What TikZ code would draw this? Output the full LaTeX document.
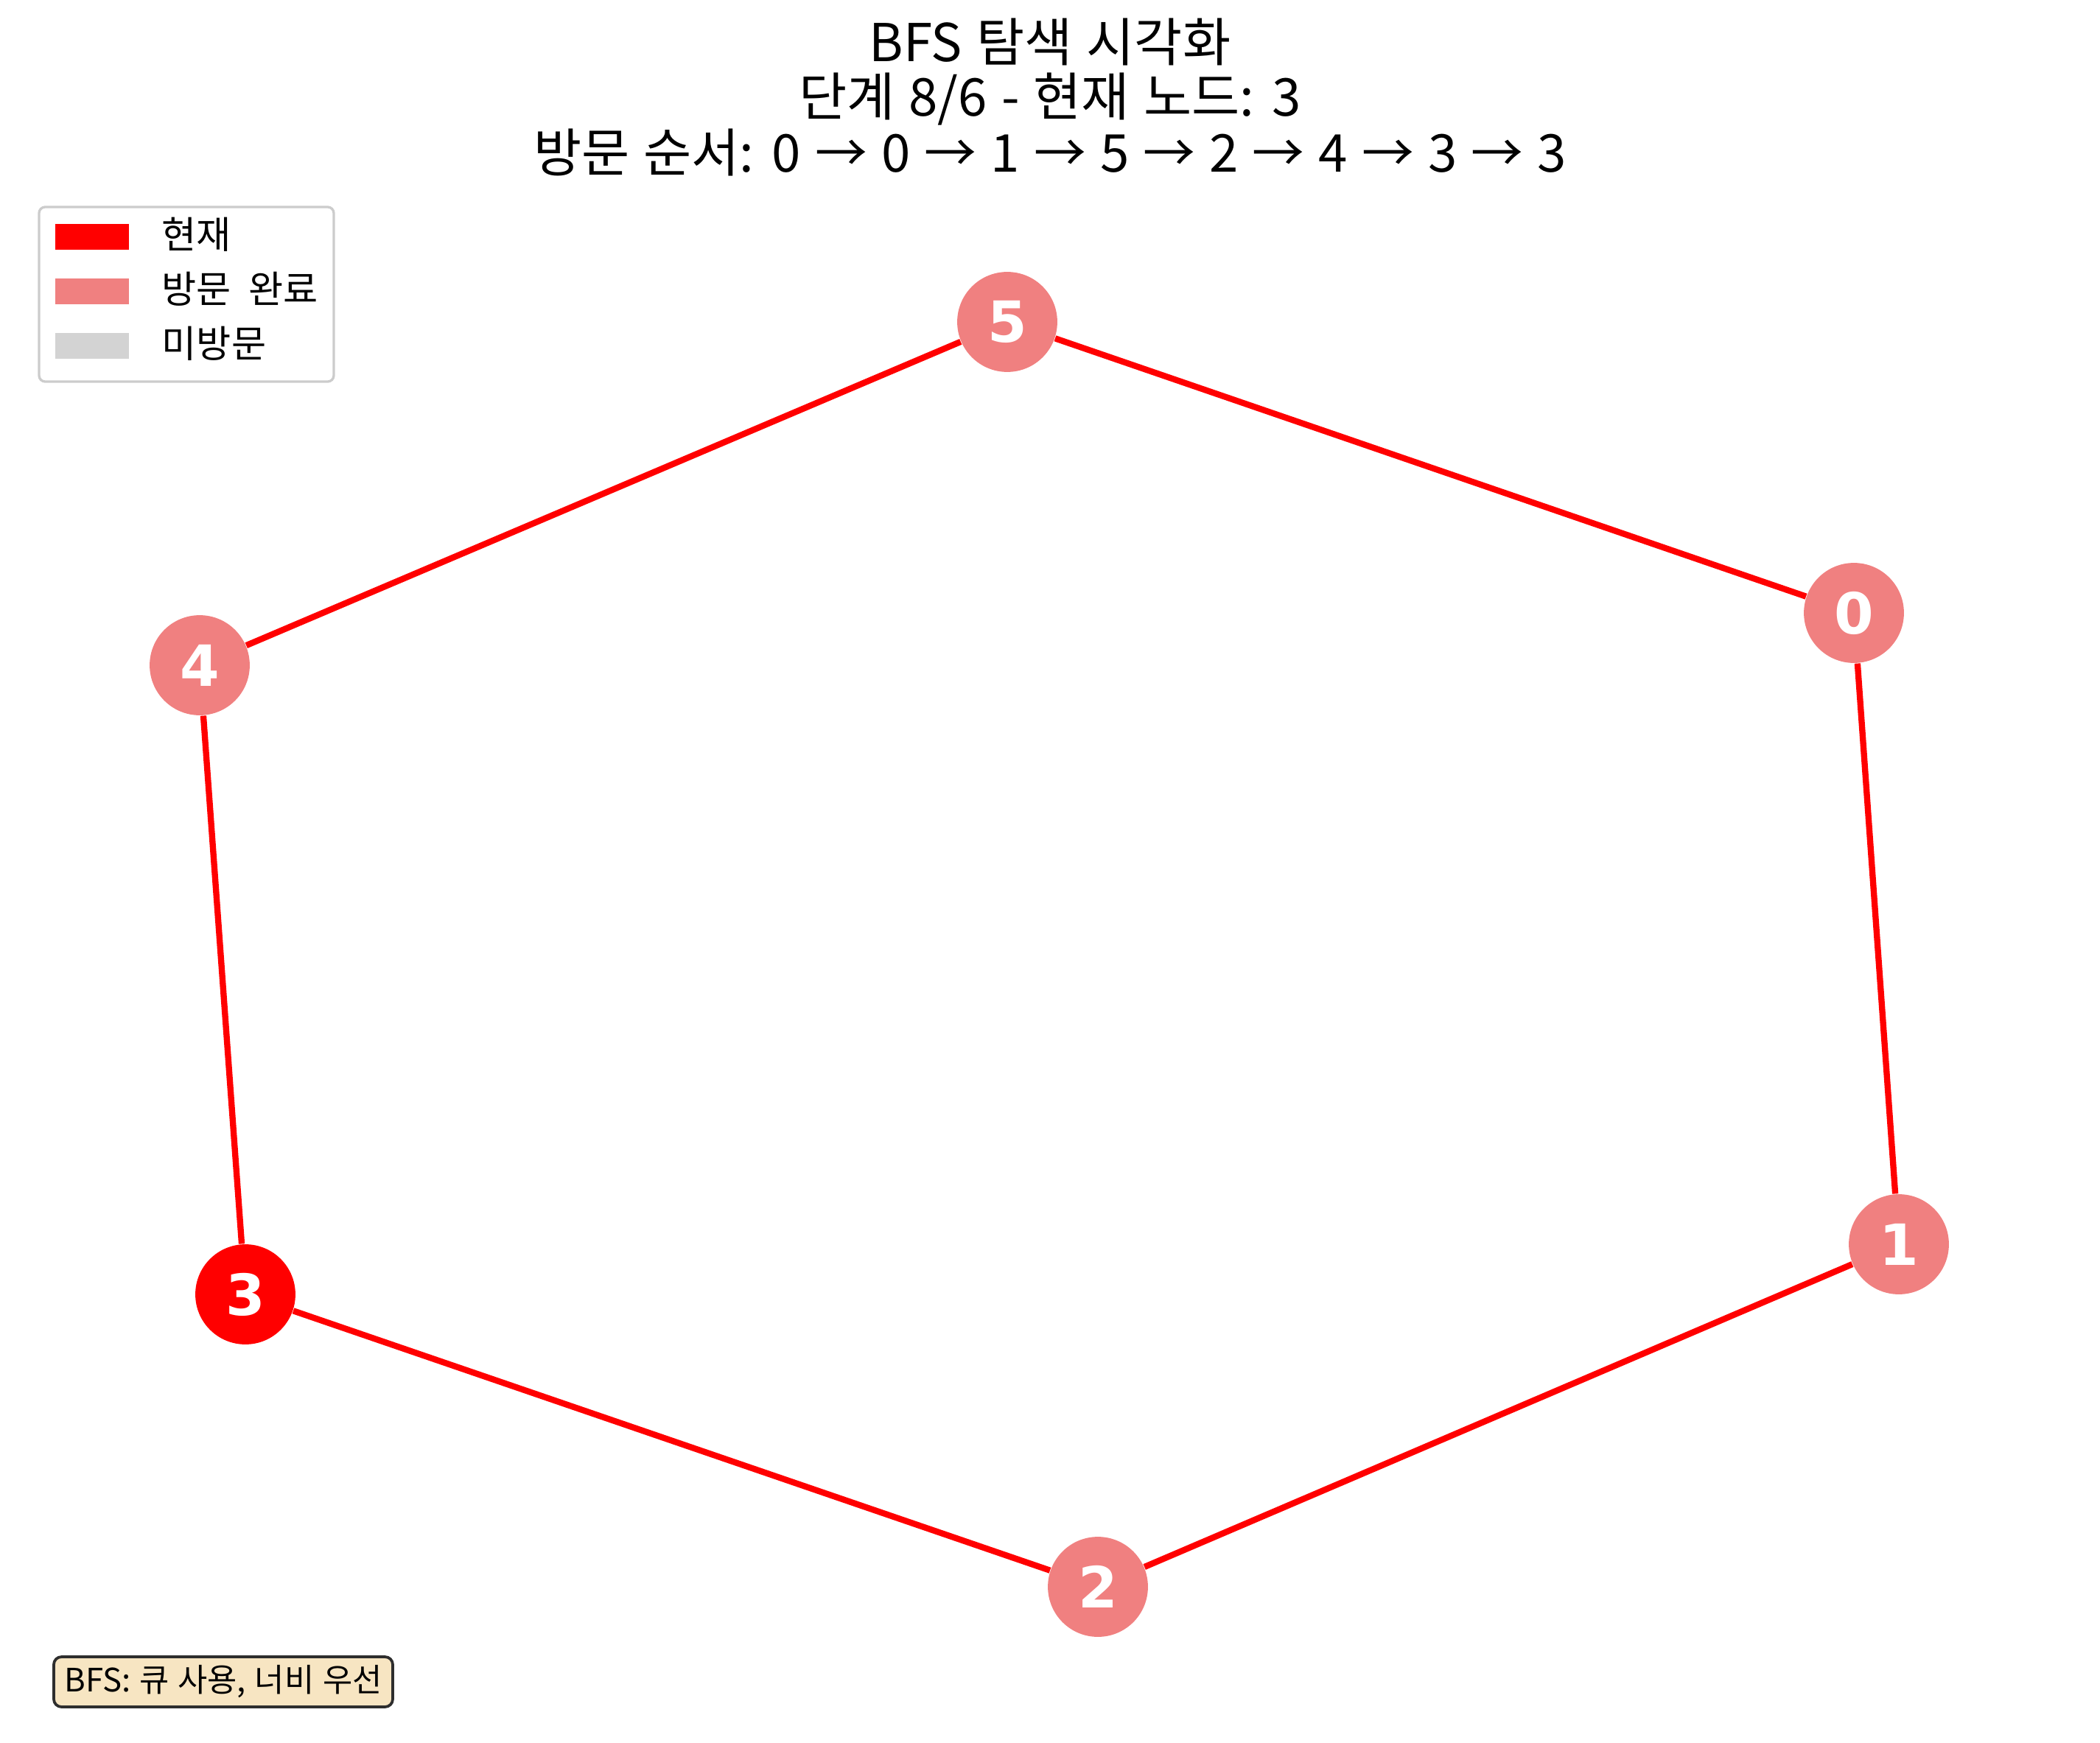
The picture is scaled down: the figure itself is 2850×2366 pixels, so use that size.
\documentclass[tikz,border=0pt]{standalone}
\usepackage{fontspec}
\setmainfont{Noto Sans CJK KR}
\newfontfamily\numfont{DejaVu Sans}
\definecolor{visited}{HTML}{F08080}
\definecolor{current}{HTML}{FF0000}
\definecolor{unvisited}{HTML}{D3D3D3}
\definecolor{legendframe}{HTML}{CCCCCC}
\definecolor{wheatbox}{HTML}{F7E5C2}
\definecolor{boxframe}{HTML}{2E2E2E}
\newcommand{\widesp}{\spaceskip=0.27em plus 0em minus 0em\relax}
\newcommand{\legsp}{\spaceskip=0.45em plus 0em minus 0em\relax}
\begin{document}
\begin{tikzpicture}[x=0.24pt,y=-0.24pt,
  gnode/.style={circle,inner sep=0pt,minimum size=32.6pt,text=white,
    font=\numfont\bfseries\fontsize{18.5}{20}\selectfont},
  visitednode/.style={gnode,fill=visited},
  currentnode/.style={gnode,fill=current},
  edge/.style={draw=current,line width=2pt},
  titletext/.style={anchor=base,inner sep=0pt,font=\fontsize{17}{20}\selectfont\widesp},
  patch/.style={inner sep=0pt,minimum width=24pt,minimum height=8.4pt},
  legtext/.style={anchor=base west,inner sep=0pt,font=\fontsize{12.3}{14}\selectfont\legsp},
]
\useasboundingbox (0,0) rectangle (2850,2366);

% nodes
\node[visitednode] (n0) at (2516,832) {0};
\node[visitednode] (n1) at (2577,1689) {1};
\node[visitednode] (n2) at (1490,2154) {2};
\node[currentnode] (n3) at (333,1757) {3};
\node[visitednode] (n4) at (271,903) {4};
\node[visitednode] (n5) at (1367,437) {5};

% edges
\draw[edge] (n0) -- (n5);
\draw[edge] (n5) -- (n4);
\draw[edge] (n4) -- (n3);
\draw[edge] (n3) -- (n2);
\draw[edge] (n2) -- (n1);
\draw[edge] (n1) -- (n0);

% title
\node[titletext] (t1) at (1425,84) {BFS 탐색 시각화};
\node[titletext] (t2) at (1425,158) {단계 8/6 - 현재 노드: 3};
\node[titletext] (t3) at (1425,234) {방문 순서: 0 → 0 → 1 → 5 → 2 → 4 → 3 → 3};

% legend
\node[draw=legendframe,line width=0.8pt,rounded corners=2pt,inner sep=0pt,
  minimum width=96pt,minimum height=56.9pt] (legend) at (253,399.5) {};
\node[patch,fill=current] (p1) at (125,321.5) {};
\node[patch,fill=visited] (p2) at (125,395.5) {};
\node[patch,fill=unvisited] (p3) at (125,469.5) {};
\node[legtext] (l1) at (219,338) {현재};
\node[legtext] (l2) at (219,412) {방문 완료};
\node[legtext] (l3) at (219,486) {미방문};

% info box
\node[draw=boxframe,fill=wheatbox,line width=0.9pt,rounded corners=2.5pt,
  minimum width=110.4pt,minimum height=16.3pt,inner sep=0pt,
  font=\fontsize{10.5}{12}\selectfont\widesp] (info) at (303,2283) {BFS: 큐 사용, 너비 우선};
\end{tikzpicture}
\end{document}
